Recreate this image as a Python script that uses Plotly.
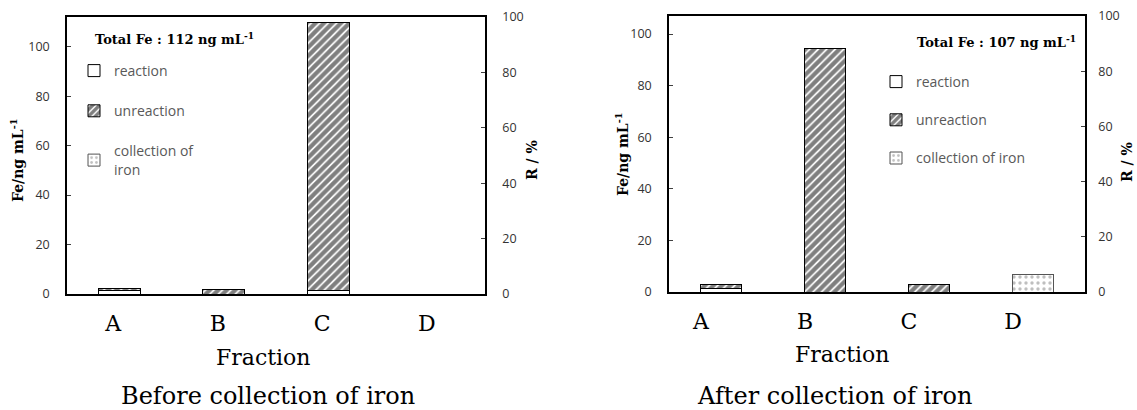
import plotly.graph_objects as go

# ---------------- data ----------------
fractions = ["A", "B", "C", "D"]

before_reaction = [1.5, None, 1.6, None]
before_unreaction = [0.8, 1.7, 108.0, None]
before_collection = [None, None, None, None]

after_reaction = [1.2, None, None, None]
after_unreaction = [1.6, 94.4, 3.0, None]
after_collection = [None, None, None, 6.9]

before_total = 112
after_total = 107
r_ticks = [0, 20, 40, 60, 80, 100]
fe_ticks = [0, 20, 40, 60, 80, 100]

# ---------------- style ----------------
W, H = 1137, 410
SERIF = "DejaVu Serif"
SANS = "Open Sans"
TICK_COLOR = "#333333"
LEG_COLOR = "#595959"

def px_x(p):
    return p / W

def px_y(p):
    return 1 - p / H

hatch = dict(shape="/", size=6, solidity=0.7, fgcolor="black", bgcolor="white")
dots = dict(shape=".", size=6, solidity=0.25, fgcolor="#808080", bgcolor="white")

fig = go.Figure()

def add_panel(xa, ya, ya_r, reaction, unreaction, collection, legend, coll_name):
    fig.add_trace(go.Bar(
        x=fractions, y=reaction, name="reaction", xaxis=xa, yaxis=ya,
        marker=dict(color="white", line=dict(color="black", width=1)),
        width=0.4, legend=legend, legendgroup=legend + "r"))
    fig.add_trace(go.Bar(
        x=fractions, y=unreaction, name="unreaction", xaxis=xa, yaxis=ya,
        marker=dict(color="white", pattern=hatch, line=dict(color="black", width=1)),
        width=0.4, legend=legend, legendgroup=legend + "u"))
    fig.add_trace(go.Bar(
        x=fractions, y=collection, name=coll_name, xaxis=xa, yaxis=ya,
        marker=dict(color="white", pattern=dots, line=dict(color="#555555", width=1)),
        width=0.4, legend=legend, legendgroup=legend + "c"))
    # empty trace so that the right-hand R / % axis is drawn
    fig.add_trace(go.Scatter(x=[], y=[], xaxis=xa, yaxis=ya_r, mode="markers",
                             showlegend=False, hoverinfo="skip"))

add_panel("x", "y", "y2", before_reaction, before_unreaction, before_collection,
          "legend", "collection of<br>iron")
add_panel("x2", "y3", "y4", after_reaction, after_unreaction, after_collection,
          "legend2", "collection of iron")

common_x = dict(
    type="category", categoryorder="array", categoryarray=fractions,
    showline=True, linecolor="black", linewidth=1.5, mirror=True,
    ticks="", showgrid=False, zeroline=False, automargin=False,
    tickfont=dict(family=SERIF, size=22, color="black"),
    ticklabelstandoff=9,
)
common_yl = dict(
    showline=True, linecolor="black", linewidth=1.5,
    ticks="inside", ticklen=4, tickcolor="#404040", tickvals=fe_ticks,
    showgrid=False, zeroline=False, automargin=False,
    tickfont=dict(family=SANS, size=12.5, color=TICK_COLOR),
    ticklabelstandoff=13,
)
common_yr = dict(
    showline=True, linecolor="black", linewidth=1.5, side="right",
    ticks="inside", ticklen=4, tickcolor="#404040", tickvals=r_ticks,
    showgrid=False, zeroline=False, range=[0, 100], automargin=False,
    tickfont=dict(family=SANS, size=12.5, color=TICK_COLOR),
)

fig.update_layout(
    width=W, height=H, margin=dict(l=0, r=0, t=0, b=0, autoexpand=False),
    paper_bgcolor="white", plot_bgcolor="white",
    barmode="stack", bargap=0.6,
    xaxis=dict(domain=[px_x(67), px_x(485)], anchor="y", ticklabelshift=-6, **common_x),
    yaxis=dict(domain=[px_y(294), px_y(17)], anchor="x", range=[0, before_total], **common_yl),
    yaxis2=dict(overlaying="y", anchor="x", ticklabelstandoff=13, **common_yr),
    xaxis2=dict(domain=[px_x(669), px_x(1085)], anchor="y3", ticklabelshift=-20, **common_x),
    yaxis3=dict(domain=[px_y(292), px_y(16)], anchor="x2", range=[0, after_total], **common_yl),
    yaxis4=dict(overlaying="y3", anchor="x2", ticklabelstandoff=9, **common_yr),
    legend=dict(x=px_x(74), y=px_y(55), xanchor="left", yanchor="top",
                bgcolor="rgba(0,0,0,0)", traceorder="grouped", tracegroupgap=19,
                font=dict(family=SANS, size=14, color=LEG_COLOR), itemwidth=30),
    legend2=dict(x=px_x(876), y=px_y(66), xanchor="left", yanchor="top",
                 bgcolor="rgba(0,0,0,0)", traceorder="grouped", tracegroupgap=17,
                 font=dict(family=SANS, size=14, color=LEG_COLOR), itemwidth=30),
    showlegend=True,
)

ann = []
def add_text(text, x, y, size, xanchor="center", angle=0, bold=False):
    ann.append(dict(text=("<b>%s</b>" % text) if bold else text,
                    x=px_x(x), y=px_y(y), xref="paper", yref="paper",
                    xanchor=xanchor, yanchor="middle", showarrow=False,
                    textangle=angle,
                    font=dict(family=SERIF, size=size, color="black")))

add_text("Total Fe : %d ng mL<sup>-1</sup>" % before_total, 93, 39, 13, xanchor="left", bold=True)
add_text("Total Fe : %d ng mL<sup>-1</sup>" % after_total, 915, 42, 13, xanchor="left", bold=True)
add_text("Fe/ng mL<sup>-1</sup>", 17, 160, 14, angle=-90, bold=True)
add_text("Fe/ng mL<sup>-1</sup>", 622, 154, 14, angle=-90, bold=True)
add_text("R / %", 532, 160, 14, angle=-90, bold=True)
add_text("R / %", 1127, 162, 14, angle=-90, bold=True)
add_text("Fraction", 263, 357, 22)
add_text("Fraction", 842, 354, 22)
add_text("Before collection of iron", 268, 396, 24)
add_text("After collection of iron", 835, 396, 24)
fig.update_layout(annotations=ann)

fig.write_html("out.html")
